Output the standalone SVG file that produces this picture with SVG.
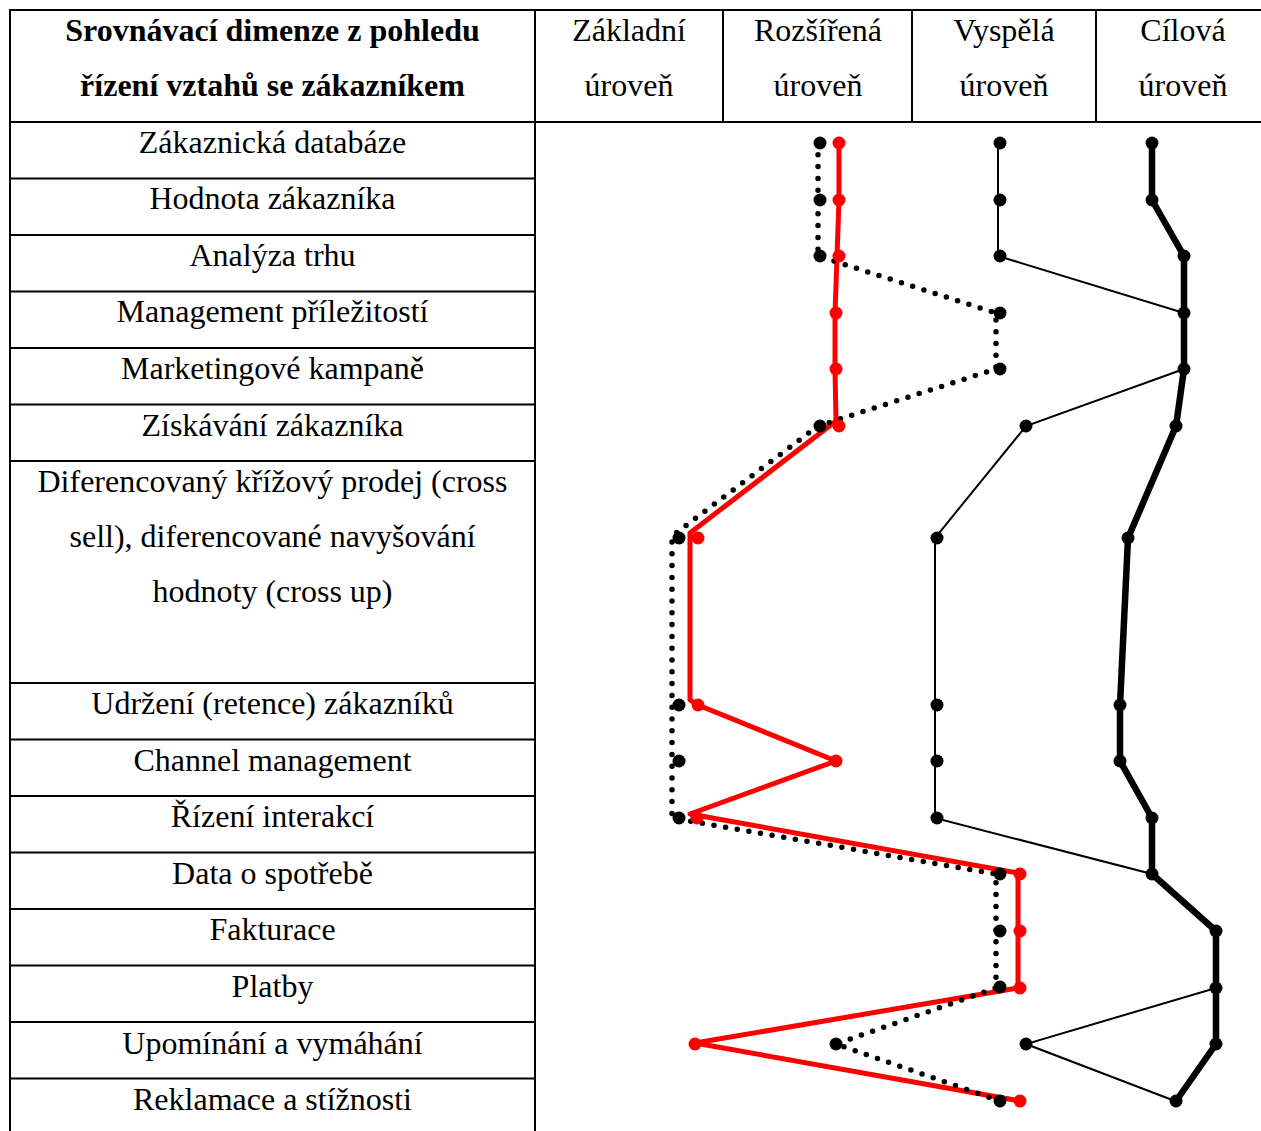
<svg xmlns="http://www.w3.org/2000/svg" width="1261" height="1131" viewBox="0 0 1261 1131">
<style>
.grid{stroke:#000;stroke-width:2;fill:none}
.t{font-family:"Liberation Serif","Times New Roman",serif;font-size:32px;fill:#000;text-anchor:middle}
.b{font-weight:bold}
.red{stroke:#ff0000;stroke-width:5;fill:none;stroke-linejoin:round}
.dot{stroke:#000;stroke-width:5.5;fill:none;stroke-dasharray:0 11.8;stroke-linecap:round}
.thin{stroke:#000;stroke-width:2;fill:none}
.thick{stroke:#000;stroke-width:6.5;fill:none;stroke-linejoin:round}
.rd{fill:#ff0000}
.bd{fill:#000}
</style>
<rect width="1261" height="1131" fill="#fff"/>
<g id="table-grid" class="grid">
<line x1="9" y1="10" x2="1261" y2="10"/>
<line x1="9" y1="122" x2="1261" y2="122"/>
<line x1="10" y1="10" x2="10" y2="1131"/>
<line x1="535" y1="10" x2="535" y2="1131"/>
<line x1="723" y1="10" x2="723" y2="122"/>
<line x1="912" y1="10" x2="912" y2="122"/>
<line x1="1096" y1="10" x2="1096" y2="122"/>
<line x1="10" y1="178.5" x2="535" y2="178.5"/>
<line x1="10" y1="235" x2="535" y2="235"/>
<line x1="10" y1="291.5" x2="535" y2="291.5"/>
<line x1="10" y1="348" x2="535" y2="348"/>
<line x1="10" y1="404.5" x2="535" y2="404.5"/>
<line x1="10" y1="461" x2="535" y2="461"/>
<line x1="10" y1="683" x2="535" y2="683"/>
<line x1="10" y1="739.5" x2="535" y2="739.5"/>
<line x1="10" y1="796" x2="535" y2="796"/>
<line x1="10" y1="852.5" x2="535" y2="852.5"/>
<line x1="10" y1="909" x2="535" y2="909"/>
<line x1="10" y1="965.5" x2="535" y2="965.5"/>
<line x1="10" y1="1022" x2="535" y2="1022"/>
<line x1="10" y1="1078.5" x2="535" y2="1078.5"/>
</g>
<g id="header">
<text class="t b" x="272.5" y="41">Srovnávací dimenze z pohledu</text>
<text class="t b" x="272.5" y="96">řízení vztahů se zákazníkem</text>
<text class="t" x="629" y="41">Základní</text>
<text class="t" x="629" y="96">úroveň</text>
<text class="t" x="818" y="41">Rozšířená</text>
<text class="t" x="818" y="96">úroveň</text>
<text class="t" x="1004" y="41">Vyspělá</text>
<text class="t" x="1004" y="96">úroveň</text>
<text class="t" x="1183" y="41">Cílová</text>
<text class="t" x="1183" y="96">úroveň</text>
</g>
<g id="row-labels">
<text class="t" x="272.5" y="153">Zákaznická databáze</text>
<text class="t" x="272.5" y="209">Hodnota zákazníka</text>
<text class="t" x="272.5" y="266">Analýza trhu</text>
<text class="t" x="272.5" y="322">Management příležitostí</text>
<text class="t" x="272.5" y="379">Marketingové kampaně</text>
<text class="t" x="272.5" y="436">Získávání zákazníka</text>
<text class="t" x="272.5" y="492">Diferencovaný křížový prodej (cross</text>
<text class="t" x="272.5" y="547">sell), diferencované navyšování</text>
<text class="t" x="272.5" y="602">hodnoty (cross up)</text>
<text class="t" x="272.5" y="714">Udržení (retence) zákazníků</text>
<text class="t" x="272.5" y="771">Channel management</text>
<text class="t" x="272.5" y="827">Řízení interakcí</text>
<text class="t" x="272.5" y="884">Data o spotřebě</text>
<text class="t" x="272.5" y="940">Fakturace</text>
<text class="t" x="272.5" y="997">Platby</text>
<text class="t" x="272.5" y="1054">Upomínání a vymáhání</text>
<text class="t" x="272.5" y="1110">Reklamace a stížnosti</text>
</g>
<g id="connectors">
<polyline id="line-cilova" class="thick" points="1152,143 1152,200 1184,256 1184,369 1176,426 1128,538 1120,705 1120,761 1152,818 1152,874 1216,931 1216,1044 1176,1101"/>
<polyline id="line-vyspela" class="thin" points="998,143 998,256 1184,313 1184,369 1026,426 935,538 935,818 1152,874 1216,931 1216,988 1026,1044 1175,1101"/>
<polyline id="line-red" class="red" points="839,143 839,200 837,256 835,313 835,369 836,421 690,533 690,700 698,705 836,761 690,814 1018,873 1018,988 695,1043 1020,1101"/>
<polyline id="line-dotted" class="dot" points="818,143 818,256 996,313 996,369 818,426 672,536 672,818 996,874 996,988 836,1044 1000,1101"/>
</g>
<g id="points-red" class="rd">
<circle cx="839" cy="143" r="6.5"/><circle cx="839" cy="200" r="6.5"/><circle cx="839" cy="256" r="6.5"/>
<circle cx="836" cy="313" r="6.5"/><circle cx="836" cy="369" r="6.5"/><circle cx="839" cy="426" r="6.5"/>
<circle cx="698" cy="538" r="6.5"/><circle cx="698" cy="705" r="6.5"/><circle cx="836" cy="761" r="6.5"/>
<circle cx="697" cy="818" r="6.5"/><circle cx="1020" cy="874" r="6.5"/><circle cx="1020" cy="931" r="6.5"/>
<circle cx="1020" cy="988" r="6.5"/><circle cx="695" cy="1044" r="6.5"/><circle cx="1020" cy="1101" r="6.5"/>
</g>
<g id="points-dotted" class="bd">
<circle cx="820" cy="143" r="6.5"/><circle cx="820" cy="200" r="6.5"/><circle cx="820" cy="256" r="6.5"/>
<circle cx="1000" cy="313" r="6.5"/><circle cx="1000" cy="369" r="6.5"/><circle cx="820" cy="426" r="6.5"/>
<circle cx="679" cy="538" r="6.5"/><circle cx="679" cy="705" r="6.5"/><circle cx="679" cy="761" r="6.5"/>
<circle cx="679" cy="818" r="6.5"/><circle cx="1000" cy="874" r="6.5"/><circle cx="1000" cy="931" r="6.5"/>
<circle cx="1000" cy="987" r="6.5"/><circle cx="836" cy="1044" r="6.5"/><circle cx="1000" cy="1101" r="6.5"/>
</g>
<g id="points-vyspela" class="bd">
<circle cx="1000" cy="143" r="6.5"/><circle cx="1000" cy="200" r="6.5"/><circle cx="1000" cy="256" r="6.5"/>
<circle cx="1026" cy="426" r="6.5"/><circle cx="937" cy="538" r="6.5"/><circle cx="937" cy="705" r="6.5"/>
<circle cx="937" cy="761" r="6.5"/><circle cx="937" cy="818" r="6.5"/><circle cx="1026" cy="1044" r="6.5"/>
</g>
<g id="points-cilova" class="bd">
<circle cx="1152" cy="143" r="6.5"/><circle cx="1152" cy="200" r="6.5"/><circle cx="1184" cy="256" r="6.5"/>
<circle cx="1184" cy="313" r="6.5"/><circle cx="1184" cy="369" r="6.5"/><circle cx="1176" cy="426" r="6.5"/>
<circle cx="1128" cy="538" r="6.5"/><circle cx="1120" cy="705" r="6.5"/><circle cx="1120" cy="761" r="6.5"/>
<circle cx="1152" cy="818" r="6.5"/><circle cx="1152" cy="874" r="6.5"/><circle cx="1216" cy="931" r="6.5"/>
<circle cx="1216" cy="988" r="6.5"/><circle cx="1216" cy="1044" r="6.5"/><circle cx="1176" cy="1101" r="6.5"/>
</g>
</svg>
